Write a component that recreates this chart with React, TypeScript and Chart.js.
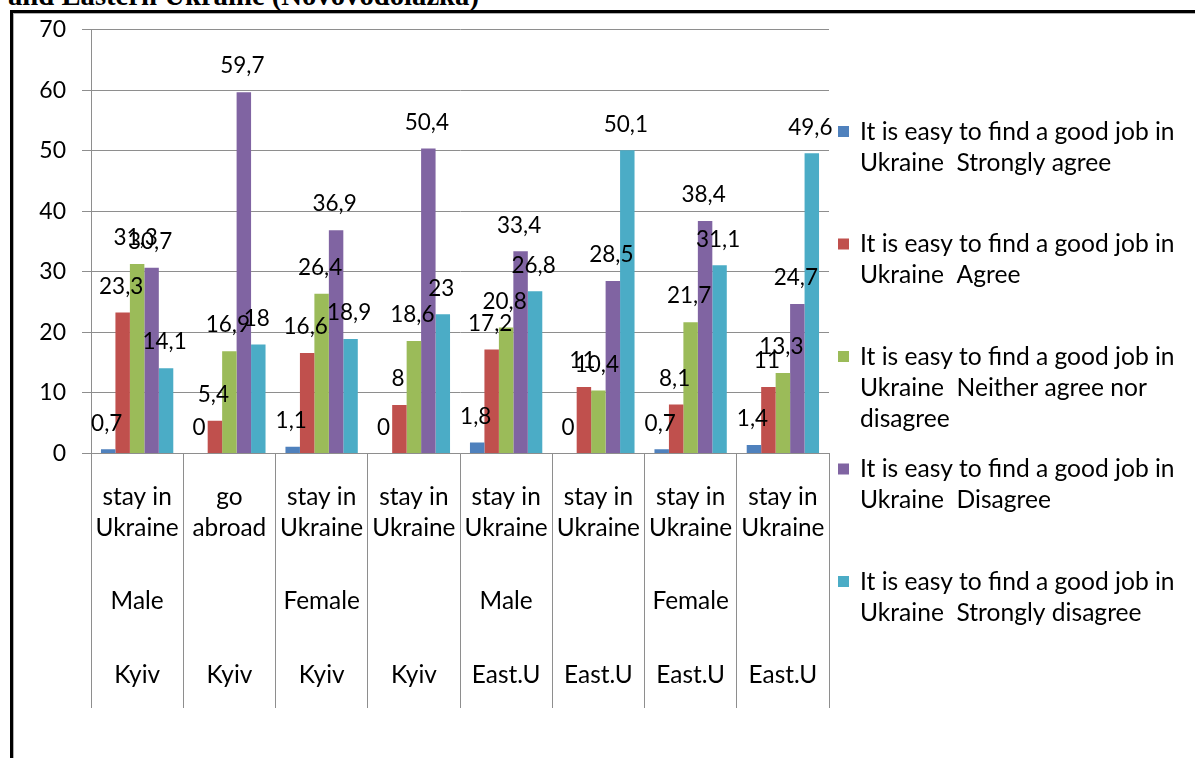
import React, { useEffect, useRef } from "react";
import { Chart, registerables } from "chart.js";

Chart.register(...registerables);

// ---------- data ----------
const categoryTier1 = [
  ["stay in", "Ukraine"],
  ["go", "abroad"],
  ["stay in", "Ukraine"],
  ["stay in", "Ukraine"],
  ["stay in", "Ukraine"],
  ["stay in", "Ukraine"],
  ["stay in", "Ukraine"],
  ["stay in", "Ukraine"],
];
const categoryTier2 = ["Male", "", "Female", "", "Male", "", "Female", ""];
const categoryTier3 = ["Kyiv", "Kyiv", "Kyiv", "Kyiv", "East.U", "East.U", "East.U", "East.U"];

const seriesNames = [
  "It is easy to find a good job in Ukraine  Strongly agree",
  "It is easy to find a good job in Ukraine  Agree",
  "It is easy to find a good job in Ukraine  Neither agree nor disagree",
  "It is easy to find a good job in Ukraine  Disagree",
  "It is easy to find a good job in Ukraine  Strongly disagree",
];
const legendLines = [
  ["It is easy to find a good job in", "Ukraine  Strongly agree"],
  ["It is easy to find a good job in", "Ukraine  Agree"],
  ["It is easy to find a good job in", "Ukraine  Neither agree nor", "disagree"],
  ["It is easy to find a good job in", "Ukraine  Disagree"],
  ["It is easy to find a good job in", "Ukraine  Strongly disagree"],
];

const stronglyAgree = [0.7, 0, 1.1, 0, 1.8, 0, 0.7, 1.4];
const agree = [23.3, 5.4, 16.6, 8, 17.2, 11, 8.1, 11];
const neither = [31.3, 16.9, 26.4, 18.6, 20.8, 10.4, 21.7, 13.3];
const disagree = [30.7, 59.7, 36.9, 50.4, 33.4, 28.5, 38.4, 24.7];
const stronglyDisagree = [14.1, 18, 18.9, 23, 26.8, 50.1, 31.1, 49.6];

const seriesValues = [stronglyAgree, agree, neither, disagree, stronglyDisagree];
const seriesColors = ["#4F81BD", "#C0504D", "#9BBB59", "#8064A2", "#4BACC6"];

const yMin = 0;
const yMax = 70;
const yStep = 10;

const titleText = "and Eastern Ukraine (Novovodolazka)";

// ---------- styles ----------
const FONT = "Lato, 'Open Sans', sans-serif";
const XTICK_SIZE = 24.4;
const YTICK_SIZE = 23;
const LABEL_SIZE = 22.5;
const LEGEND_SIZE = 24.6;
const LINE_H = 31;
const GRID = "#8e8e8e";
const TEXT_COLOR = "#000000";

const tierAxis = (
  weight: number,
  height: number,
  firstLineCenter: number,
  showBorder: boolean,
  labels?: string[]
) => {
  const axis: any = {
    type: "category",
    position: "bottom",
    axis: "x",
    offset: true,
    weight,
    grid: {
      display: true,
      drawOnChartArea: false,
      drawTicks: true,
      tickLength: height,
      offset: true,
      color: GRID,
      lineWidth: 1,
    },
    border: { display: showBorder, color: GRID, width: 1 },
    ticks: {
      padding: firstLineCenter - height - LINE_H / 2,
      font: { family: FONT, size: XTICK_SIZE, lineHeight: LINE_H / XTICK_SIZE },
      color: TEXT_COLOR,
      maxRotation: 0,
      minRotation: 0,
      autoSkip: false,
    },
    afterFit: (s: any) => {
      s.height = height;
    },
  };
  if (labels) axis.labels = labels;
  return axis;
};

const dataLabelPlugin = {
  id: "dataLabels",
  afterDatasetsDraw(chart: any) {
    const { ctx } = chart;
    ctx.save();
    ctx.font = `${LABEL_SIZE}px ${FONT}`;
    ctx.fillStyle = TEXT_COLOR;
    ctx.textAlign = "center";
    ctx.textBaseline = "middle";
    chart.data.datasets.forEach((ds: any, di: number) => {
      const meta = chart.getDatasetMeta(di);
      meta.data.forEach((el: any, i: number) => {
        const v = ds.data[i];
        ctx.fillText(String(v).replace(".", ","), el.x - 1.5, el.y - 26);
      });
    });
    ctx.restore();
  },
};

const legendPlugin = {
  id: "sideLegend",
  afterDraw(chart: any) {
    const { ctx, chartArea } = chart;
    ctx.save();
    ctx.font = `${LEGEND_SIZE}px ${FONT}`;
    ctx.textAlign = "left";
    ctx.textBaseline = "middle";
    const top = 132;
    const gap = 112.5;
    legendLines.forEach((lines, i) => {
      const y0 = top + i * gap;
      ctx.fillStyle = seriesColors[i];
      ctx.fillRect(chartArea.right + 9, y0 - 6, 11, 11);
      ctx.fillStyle = TEXT_COLOR;
      lines.forEach((t, j) => ctx.fillText(t, chartArea.right + 31, y0 + j * LINE_H));
    });
    ctx.restore();
  },
};

export default function App() {
  const canvasRef = useRef<HTMLCanvasElement | null>(null);

  useEffect(() => {
    if (!canvasRef.current) return;
    const chart = new Chart(canvasRef.current, {
      type: "bar",
      data: {
        labels: categoryTier1 as any,
        datasets: seriesValues.map((vals, i) => ({
          label: seriesNames[i],
          data: vals,
          backgroundColor: seriesColors[i],
          borderWidth: 0,
          categoryPercentage: 0.784,
          barPercentage: 1.0,
          xAxisID: "x",
        })),
      },
      options: {
        responsive: false,
        animation: false,
        devicePixelRatio: 1,
        layout: { padding: { top: 28.3, right: 366, bottom: 50, left: 0 } },
        plugins: {
          legend: { display: false },
          tooltip: { enabled: false },
          title: { display: false },
        },
        scales: {
          x: tierAxis(0, 109.5, 43.5, true),
          x2: tierAxis(1, 75, 38, false, categoryTier2),
          x3: tierAxis(2, 70, 37, false, categoryTier3),
          y: {
            min: yMin,
            max: yMax,
            ticks: {
              stepSize: yStep,
              padding: 16,
              font: { family: FONT, size: YTICK_SIZE },
              color: TEXT_COLOR,
            },
            grid: { color: GRID, lineWidth: 1, tickLength: 9 },
            border: { display: true, color: GRID, width: 1 },
            afterFit: (s: any) => {
              s.width = 91;
            },
          },
        },
      } as any,
      plugins: [dataLabelPlugin, legendPlugin],
    });
    return () => chart.destroy();
  }, []);

  return (
    <div
      style={{
        position: "absolute",
        left: 0,
        top: 0,
        width: 1195,
        height: 758,
        overflow: "hidden",
        background: "#ffffff",
      }}
    >
      <div
        style={{
          position: "absolute",
          left: 8,
          top: -19,
          fontFamily: "'Liberation Serif', 'Times New Roman', serif",
          fontWeight: "bold",
          fontSize: 28.7,
          lineHeight: "29px",
          whiteSpace: "nowrap",
          color: "#000",
        }}
      >
        {titleText}
      </div>
      <div
        style={{
          position: "absolute",
          left: 10,
          top: 10,
          width: 1300,
          height: 900,
          borderLeft: "3px solid #000",
          borderTop: "3px solid #000",
        }}
      />
      <div
        style={{
          position: "absolute",
          left: 13,
          top: 13,
          width: 1300,
          height: 900,
          borderLeft: "1px solid #b0b0b0",
          borderTop: "1px solid #b0b0b0",
        }}
      />
      <canvas
        ref={canvasRef}
        width={1195}
        height={758}
        style={{ position: "absolute", left: 0, top: 0, width: 1195, height: 758 }}
      />
    </div>
  );
}
